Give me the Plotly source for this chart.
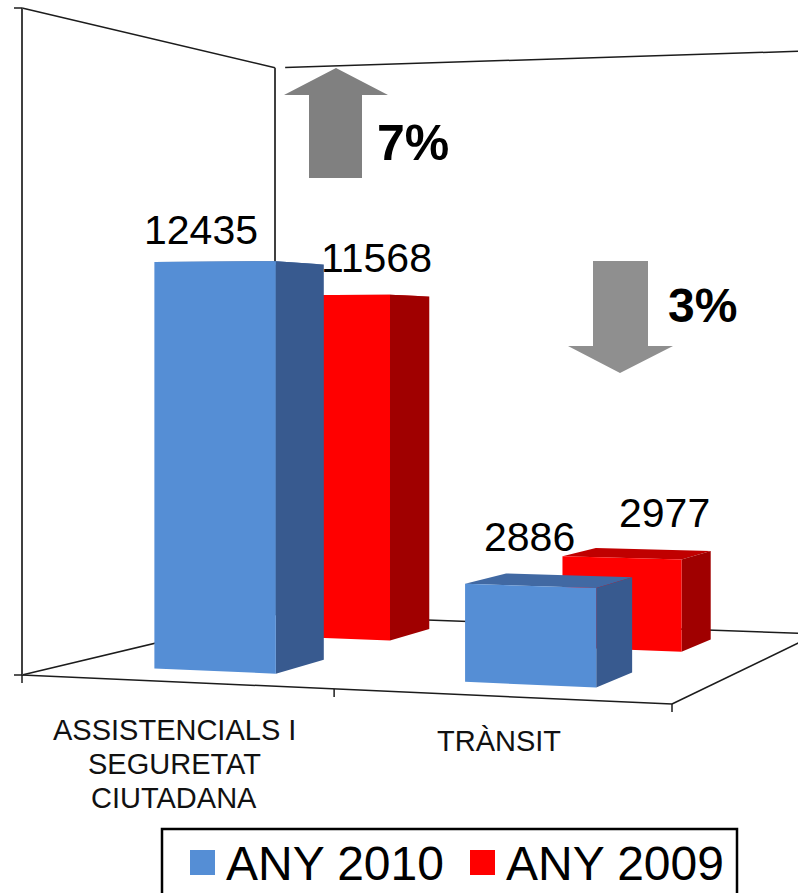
import plotly.graph_objects as go

# ---- data ----
categories = [["ASSISTENCIALS I", "SEGURETAT", "CIUTADANA"], ["TRÀNSIT"]]
series_names = ["ANY 2010", "ANY 2009"]
values_2010 = [12435, 2886]
values_2009 = [11568, 2977]
axis_max = 20000

# ---- perspective camera: floor corners on screen (u along categories, v depth) ----
P00, P10, P11, P01 = (22, 675), (672, 704), (817, 634), (275, 614.6)
VALUE_SCALE = 667 / axis_max
BAR_HALF = 0.1
CAT_CENTER = [0.25, 0.75]
SERIES_V = {"ANY 2010": (0.146, 0.345), "ANY 2009": (0.65, 0.85)}


def _camera():
    sx = P00[0] - P10[0] + P11[0] - P01[0]
    sy = P00[1] - P10[1] + P11[1] - P01[1]
    dx1, dx2 = P10[0] - P11[0], P01[0] - P11[0]
    dy1, dy2 = P10[1] - P11[1], P01[1] - P11[1]
    den = dx1 * dy2 - dx2 * dy1
    g = (sx * dy2 - dx2 * sy) / den
    h = (dx1 * sy - sx * dy1) / den
    return (P10[0] - P00[0] + g * P10[0], P01[0] - P00[0] + h * P01[0], P00[0],
            P10[1] - P00[1] + g * P10[1], P01[1] - P00[1] + h * P01[1], P00[1], g, h)


A, B, C, D, E, F, G, H = _camera()


def project(u, v, value=0):
    w = 1 + G * u + H * v
    return (A * u + B * v + C) / w, (D * u + E * v + F) / w - VALUE_SCALE * value / w


def faces(values, name):
    v0, v1 = SERIES_V[name]
    front, side, top = ([], []), ([], []), ([], [])
    for c, val in zip(CAT_CENTER, values):
        u0, u1 = c - BAR_HALF, c + BAR_HALF
        quads = [
            (front, [(u0, v0, 0), (u1, v0, 0), (u1, v0, val), (u0, v0, val)]),
            (side, [(u1, v0, 0), (u1, v1, 0), (u1, v1, val), (u1, v0, val)]),
            (top, [(u0, v0, val), (u1, v0, val), (u1, v1, val), (u0, v1, val)]),
        ]
        for store, quad in quads:
            pts = [project(*q) for q in quad]
            pts.append(pts[0])
            store[0].extend([p[0] for p in pts] + [None])
            store[1].extend([p[1] for p in pts] + [None])
    return front, side, top


fig = go.Figure()


def line(p, q, color="#1c1c1c", width=1.5, value_p=0, value_q=0):
    a, b = project(*p, value_p), project(*q, value_q)
    fig.add_trace(go.Scatter(x=[a[0], b[0]], y=[a[1], b[1]], mode="lines",
                             line=dict(color=color, width=width),
                             showlegend=False, hoverinfo="skip"))


# walls, floor and axes
line((0, 0), (1, 0))
line((0, 0), (0, 1))
line((0, 1), (1, 1))
line((1, 0), (1, 1))
line((0, 0), (0, 1), value_p=axis_max, value_q=axis_max)
line((0.02, 1), (1, 1), value_p=axis_max, value_q=axis_max)
line((0, 0), (0, 0), "#404040", 2, 0, axis_max)
line((0, 1), (0, 1), "#404040", 2, 0, axis_max)
for u in (0, 0.5, 1):
    x, y = project(u, 0)
    fig.add_trace(go.Scatter(x=[x, x], y=[y, y + 8], mode="lines",
                             line=dict(color="#1c1c1c", width=1.5),
                             showlegend=False, hoverinfo="skip"))
for val in (0, axis_max):
    x, y = project(0, 0, val)
    fig.add_trace(go.Scatter(x=[x - 8, x], y=[y, y], mode="lines",
                             line=dict(color="#1c1c1c", width=1.5),
                             showlegend=False, hoverinfo="skip"))

# bars
styles = {"ANY 2009": ("#FF0000", "#A00000", "#C00000"),
          "ANY 2010": ("#558ED5", "#385A8F", "#4169A3")}
for name, vals in (("ANY 2009", values_2009), ("ANY 2010", values_2010)):
    front, side, top = faces(vals, name)
    for store, col in zip((top, side, front), styles[name][::-1]):
        fig.add_trace(go.Scatter(x=store[0], y=store[1], fill="toself", fillcolor=col,
                                 mode="lines", line=dict(width=0, color=col),
                                 name=name, showlegend=False, hoverinfo="skip"))

# value labels
LABEL_OFFSETS = {"ANY 2010": [(-14, -32), (-1, -49)], "ANY 2009": [(42, -37), (43, -45)]}
for name, vals in (("ANY 2010", values_2010), ("ANY 2009", values_2009)):
    v0 = SERIES_V[name][0]
    for c, val, (dx, dy) in zip(CAT_CENTER, vals, LABEL_OFFSETS[name]):
        x, y = project(c, v0, val)
        fig.add_annotation(x=x + dx, y=y + dy, text=f"{val}", showarrow=False,
                           font=dict(size=41, color="black"))

# category labels
LINE_PITCH = 34
for lines, (x, y0) in zip(categories, [(174, 730), (499, 741)]):
    for i, txt in enumerate(lines):
        fig.add_annotation(x=x, y=y0 + i * LINE_PITCH, text=txt, showarrow=False,
                           font=dict(size=29, color="#111111"))

# percentage callouts
fig.add_annotation(x=413, y=143, text="<b>7%</b>", showarrow=False, font=dict(size=50, color="black"))
fig.add_annotation(x=702, y=305, text="<b>3%</b>", showarrow=False, font=dict(size=48, color="black"))

shapes = [
    dict(type="path", path="M336,68 L388,95 L362,95 L362,178 L309,178 L309,95 L284,95 Z",
         fillcolor="#808080", line=dict(width=0)),
    dict(type="path", path="M593,261 L648,261 L648,346 L673,346 L620,373 L568,346 L593,346 Z",
         fillcolor="#8F8F8F", line=dict(width=0)),
    # legend frame and swatches
    dict(type="rect", x0=162, y0=829, x1=737, y1=900, line=dict(color="black", width=2.5), fillcolor="white"),
    dict(type="rect", x0=190, y0=850, x1=215, y1=875, line=dict(width=0), fillcolor="#558ED5"),
    dict(type="rect", x0=470, y0=850, x1=495, y1=875, line=dict(width=0), fillcolor="#FF0000"),
]
for name, x in zip(series_names, (334.5, 614.5)):
    fig.add_annotation(x=x, y=863, text=name, showarrow=False, font=dict(size=48, color="black"))

fig.update_layout(
    width=798, height=893, margin=dict(l=0, r=0, t=0, b=0),
    paper_bgcolor="white", plot_bgcolor="white", showlegend=False,
    font=dict(family="Liberation Sans, Arial, sans-serif"),
    xaxis=dict(range=[0, 798], visible=False, fixedrange=True),
    yaxis=dict(range=[893, 0], visible=False, fixedrange=True),
    shapes=shapes,
)
fig.write_html("out.html", config={"displayModeBar": False},
               post_script="document.body.style.margin='0';document.body.style.overflow='hidden';")
